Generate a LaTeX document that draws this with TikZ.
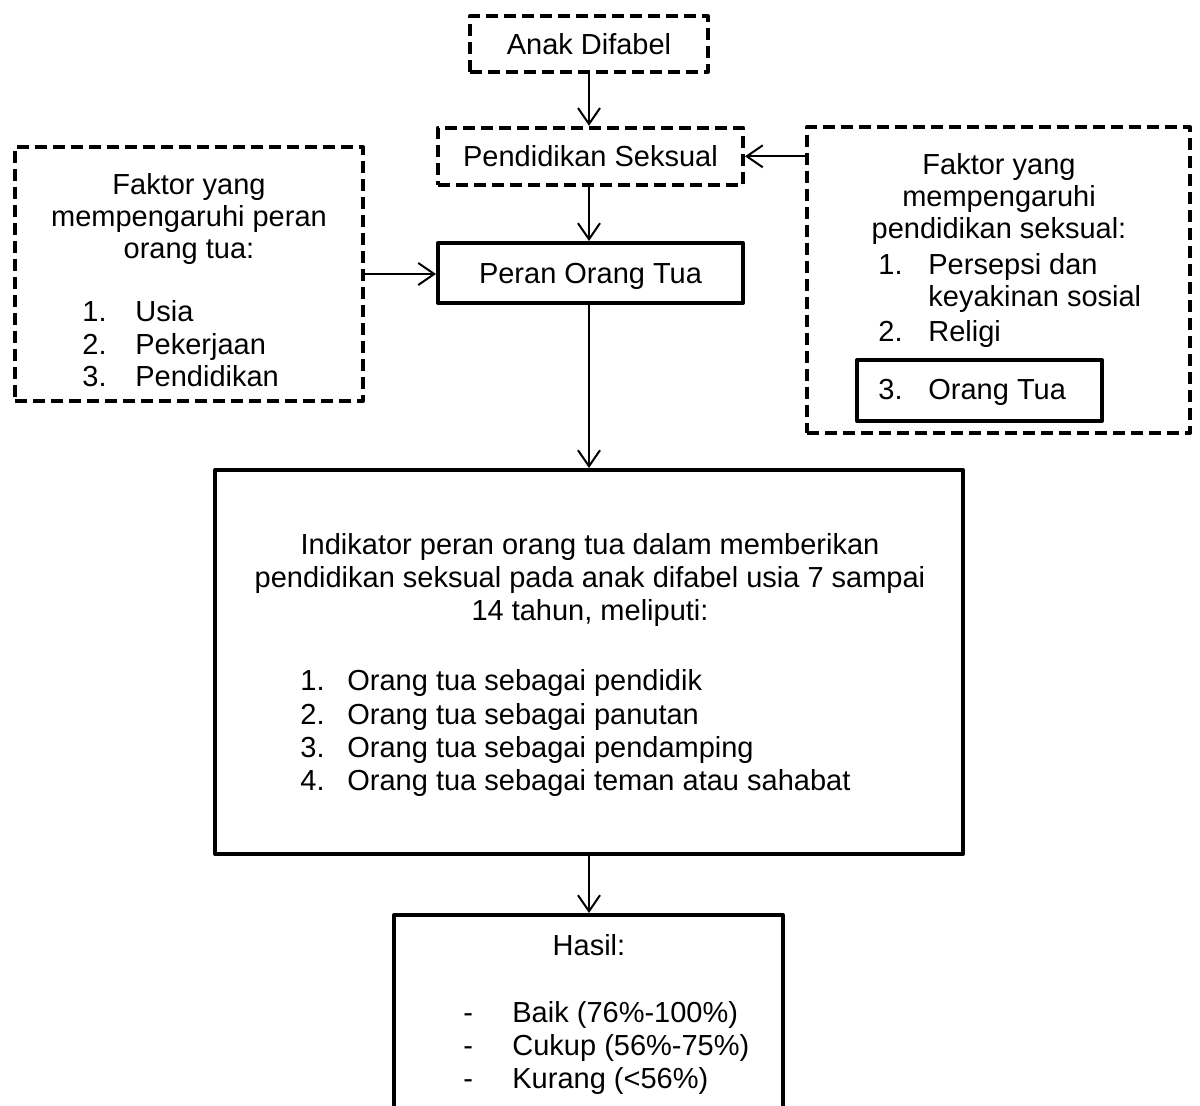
\documentclass[tikz,border=0pt]{standalone}
\usepackage{fontspec}
\setmainfont{Liberation Sans}
\usetikzlibrary{arrows.meta,positioning}
\tikzset{
  dashbox/.style={draw,line width=2pt,dash pattern=on 6pt off 3pt,line join=round,inner sep=0pt,font=\fontsize{14.5}{16.5}\selectfont},
  solidbox/.style={draw,line width=2pt,line join=round,inner sep=0pt,font=\fontsize{14.5}{16.5}\selectfont},
  txt/.style={inner sep=0pt,font=\fontsize{14.5}{16.5}\selectfont},
  arr/.style={-{Straight Barb[length=8pt,width=11pt]},line width=1pt}
}
\newcommand{\nr}[2][24pt]{\makebox[#1][l]{#2}}
\begin{document}
\begin{tikzpicture}[x=0.5pt,y=-0.5pt]
\useasboundingbox (0,0) rectangle (1200,1106);
\clip (0,0) rectangle (1200,1106);
% kotak
\node[dashbox,minimum width=119pt,minimum height=28pt] (anak) at (589,44) {Anak Difabel};
\node[dashbox,minimum width=152.5pt,minimum height=28.5pt] (pend) at (590.5,156.3) {Pendidikan Seksual};
\node[solidbox,minimum width=152.5pt,minimum height=30pt,text depth=0pt] (peran) at (590.5,273) {Peran Orang Tua};
\node[dashbox,minimum width=174pt,minimum height=127pt] (faktorA) at (189,274) {};
\node[dashbox,minimum width=191.5pt,minimum height=153pt] (faktorB) at (998.5,280) {};
\node[solidbox,minimum width=122.5pt,minimum height=30.5pt] (ortu) at (979.5,390.5) {};
\node[solidbox,minimum width=374pt,minimum height=192pt] (indikator) at (589,662) {};
\node[solidbox,minimum width=194.5pt,minimum height=150pt] (hasil) at (588.5,1065) {};
% teks (base = baris terakhir)
\node[txt,font=\fontsize{14.5}{16}\selectfont,align=center,anchor=base] (judulA) at (189,258.3) {Faktor yang\\mempengaruhi peran\\orang tua:};
\node[txt,font=\fontsize{14.5}{16.2}\selectfont,align=left,anchor=base west] (daftarA) at (82,386.7) {\nr[26.5pt]{1.}Usia\\\nr[26.5pt]{2.}Pekerjaan\\\nr[26.5pt]{3.}Pendidikan};
\node[txt,font=\fontsize{14.5}{15.85}\selectfont,align=center,anchor=base] (judulB) at (999,238.3) {Faktor yang\\mempengaruhi\\pendidikan seksual:};
\node[txt,font=\fontsize{14.5}{15.85}\selectfont,align=left,anchor=base west] (daftarB) at (878,341.7) {\nr[25pt]{1.}Persepsi dan\\\nr[25pt]{}keyakinan sosial\\[1.65pt]\nr[25pt]{2.}Religi};
\node[txt,anchor=base west] (ortuT) at (878,400) {\nr[25pt]{3.}Orang Tua};
\node[txt,align=center,anchor=base] (judulC) at (590,621) {Indikator peran orang tua dalam memberikan\\pendidikan seksual pada anak difabel usia 7 sampai\\14 tahun, meliputi:};
\node[txt,font=\fontsize{14.5}{16.65}\selectfont,align=left,anchor=base west] (daftarC) at (300,790.7) {\nr[23.5pt]{1.}Orang tua sebagai pendidik\\\nr[23.5pt]{2.}Orang tua sebagai panutan\\\nr[23.5pt]{3.}Orang tua sebagai pendamping\\\nr[23.5pt]{4.}Orang tua sebagai teman atau sahabat};
\node[txt,anchor=base] (judulD) at (589,955) {Hasil:};
\node[txt,align=left,anchor=base west] (daftarD) at (463,1088) {\nr[24.5pt]{-}Baik (76\%-100\%)\\\nr[24.5pt]{-}Cukup (56\%-75\%)\\\nr[24.5pt]{-}Kurang (<56\%)};
% panah
\draw[arr] (anak.south) -- (anak.south |- pend.north);
\draw[arr] (pend.east -| faktorB.west) -- (pend.east);
\draw[arr] (anak.south |- pend.south) -- (anak.south |- peran.north);
\draw[arr] (faktorA.east) -- (faktorA.east -| peran.west);
\draw[arr] (anak.south |- peran.south) -- (anak.south |- indikator.north);
\draw[arr] (anak.south |- indikator.south) -- (anak.south |- hasil.north);
\end{tikzpicture}
\end{document}
